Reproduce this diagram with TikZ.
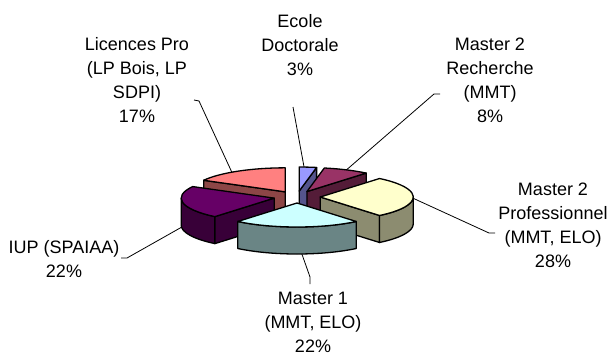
\documentclass[tikz,border=0pt]{standalone}
\usepackage{fontspec}
\setmainfont{Liberation Sans}
\definecolor{edTop}{HTML}{9999FF}
\definecolor{mrTop}{HTML}{993366}
\definecolor{mpTop}{HTML}{FFFFCC}
\definecolor{moTop}{HTML}{CCFFFF}
\definecolor{iuTop}{HTML}{660066}
\definecolor{lpTop}{HTML}{FF8080}
\colorlet{edSide}{edTop!55!black}
\colorlet{mrSide}{mrTop!55!black}
\colorlet{mpSide}{mpTop!55!black}
\colorlet{moSide}{moTop!52!black}
\colorlet{iuSide}{iuTop!55!black}
\colorlet{lpSide}{lpTop!55!black}
\begin{document}
\begin{tikzpicture}[x=1pt,y=1pt,
  face/.style={draw=black, line width=1.3pt, line join=round},
  leader/.style={draw=black, line width=0.8pt},
  lbl/.style={align=center, inner sep=0pt, font=\fontsize{18}{24}\selectfont},
  rim/.style={x radius=93pt, y radius=24pt}]
\useasboundingbox (0,0) rectangle (609,-356);

% slices of the exploded pie, drawn back to front
% Licences Pro: 90 -> 151.2
\begin{scope}[shift={({297+23.25*cos(120.6)},{-197+6*sin(120.6)})}]
  \filldraw[face, fill=lpSide] (0,0) -- ({93*cos(151.2)},{24*sin(151.2)}) -- ++(0,-27) -- (0,-27) -- cycle;
  \filldraw[face, fill=lpTop] (0,0) -- (0,24) arc[start angle=90, end angle=151.2, rim] -- cycle;
  \coordinate (lpTip) at ({93*cos(125)},{24*sin(125)});
\end{scope}
% Ecole Doctorale: 79.2 -> 90
\begin{scope}[shift={({297+23.25*cos(84.6)},{-197+6*sin(84.6)})}]
  \filldraw[face, fill=edSide] (0,0) -- ({93*cos(79.2)},{24*sin(79.2)}) -- ++(0,-27) -- (0,-27) -- cycle;
  \filldraw[face, fill=edTop] (0,0) -- ({93*cos(79.2)},{24*sin(79.2)}) arc[start angle=79.2, end angle=90, rim] -- cycle;
  \coordinate (edTip) at ({93*cos(87)},{24*sin(87)});
\end{scope}
% Master 2 Recherche: 50.4 -> 79.2
\begin{scope}[shift={({297+23.25*cos(64.8)},{-197+6*sin(64.8)})}]
  \filldraw[face, fill=mrSide] (0,0) -- ({93*cos(50.4)},{24*sin(50.4)}) -- ++(0,-27) -- (0,-27) -- cycle;
  \filldraw[face, fill=mrTop] (0,0) -- ({93*cos(50.4)},{24*sin(50.4)}) arc[start angle=50.4, end angle=79.2, rim] -- cycle;
  \coordinate (mrTip) at ({93*cos(64.8)},{24*sin(64.8)});
\end{scope}
% IUP: 151.2 -> 230.4
\begin{scope}[shift={({297+23.25*cos(190.8)},{-197+6*sin(190.8)})}]
  \filldraw[face, fill=iuSide] (-93,0) arc[start angle=180, end angle=230.4, rim] -- ++(0,-27) arc[start angle=230.4, end angle=180, rim] -- cycle;
  \filldraw[face, fill=iuSide] (0,0) -- ({93*cos(230.4)},{24*sin(230.4)}) -- ++(0,-27) -- (0,-27) -- cycle;
  \filldraw[face, fill=iuTop] (0,0) -- ({93*cos(151.2)},{24*sin(151.2)}) arc[start angle=151.2, end angle=230.4, rim] -- cycle;
  \coordinate (iuTip) at ({93*cos(185)},{24*sin(185)-27});
\end{scope}
% Master 2 Professionnel: -50.4 -> 50.4
\begin{scope}[shift={({297+23.25},{-197})}]
  \filldraw[face, fill=mpSide] (0,0) -- ({93*cos(-50.4)},{24*sin(-50.4)}) -- ++(0,-27) -- (0,-27) -- cycle;
  \filldraw[face, fill=mpSide] ({93*cos(-50.4)},{24*sin(-50.4)}) arc[start angle=-50.4, end angle=0, rim] -- ++(0,-27) arc[start angle=0, end angle=-50.4, rim] -- cycle;
  \filldraw[face, fill=mpTop] (0,0) -- ({93*cos(-50.4)},{24*sin(-50.4)}) arc[start angle=-50.4, end angle=50.4, rim] -- cycle;
  \coordinate (mpTip) at ({93*cos(-3)},{24*sin(-3)});
\end{scope}
% Master 1: -129.6 -> -50.4
\begin{scope}[shift={(297,{-197-6})}]
  \filldraw[face, fill=moSide] ({93*cos(-129.6)},{24*sin(-129.6)}) arc[start angle=-129.6, end angle=-50.4, rim] -- ++(0,-27) arc[start angle=-50.4, end angle=-129.6, rim] -- cycle;
  \filldraw[face, fill=moTop] (0,0) -- ({93*cos(-129.6)},{24*sin(-129.6)}) arc[start angle=-129.6, end angle=-50.4, rim] -- cycle;
  \coordinate (moTip) at ({93*cos(-87)},{24*sin(-87)-27});
\end{scope}

% data labels
\node[lbl] (edL) at (300,-45) {Ecole\\Doctorale\\3\%};
\node[lbl] (lpL) at (137,-80) {Licences Pro\\(LP Bois, LP\\SDPI)\\17\%};
\node[lbl] (mrL) at (490,-80) {Master 2\\Recherche\\(MMT)\\8\%};
\node[lbl] (mpL) at (553,-225) {Master 2\\Professionnel\\(MMT, ELO)\\28\%};
\node[lbl] (iuL) at (64,-259) {IUP (SPAIAA)\\22\%};
\node[lbl] (moL) at (313,-322) {Master 1\\(MMT, ELO)\\22\%};

% leader lines
\coordinate (lpK) at (199,-101); \coordinate (lpE) at (194,-100);
\coordinate (edE) at (293,-107);
\coordinate (mrK) at (434,-94);  \coordinate (mrE) at (440,-94);
\coordinate (mpK) at (489,-233); \coordinate (mpE) at (495,-233);
\coordinate (iuK) at (127,-258); \coordinate (iuE) at (121,-258);
\coordinate (moK) at (310,-277); \coordinate (moE) at (310,-284);
\draw[leader] (lpTip) -- (lpK) -- (lpE);
\draw[leader] (edTip) -- (edE);
\draw[leader] (mrTip) -- (mrK) -- (mrE);
\draw[leader] (mpTip) -- (mpK) -- (mpE);
\draw[leader] (iuTip) -- (iuK) -- (iuE);
\draw[leader] (moTip) -- (moK) -- (moE);
\end{tikzpicture}
\end{document}
